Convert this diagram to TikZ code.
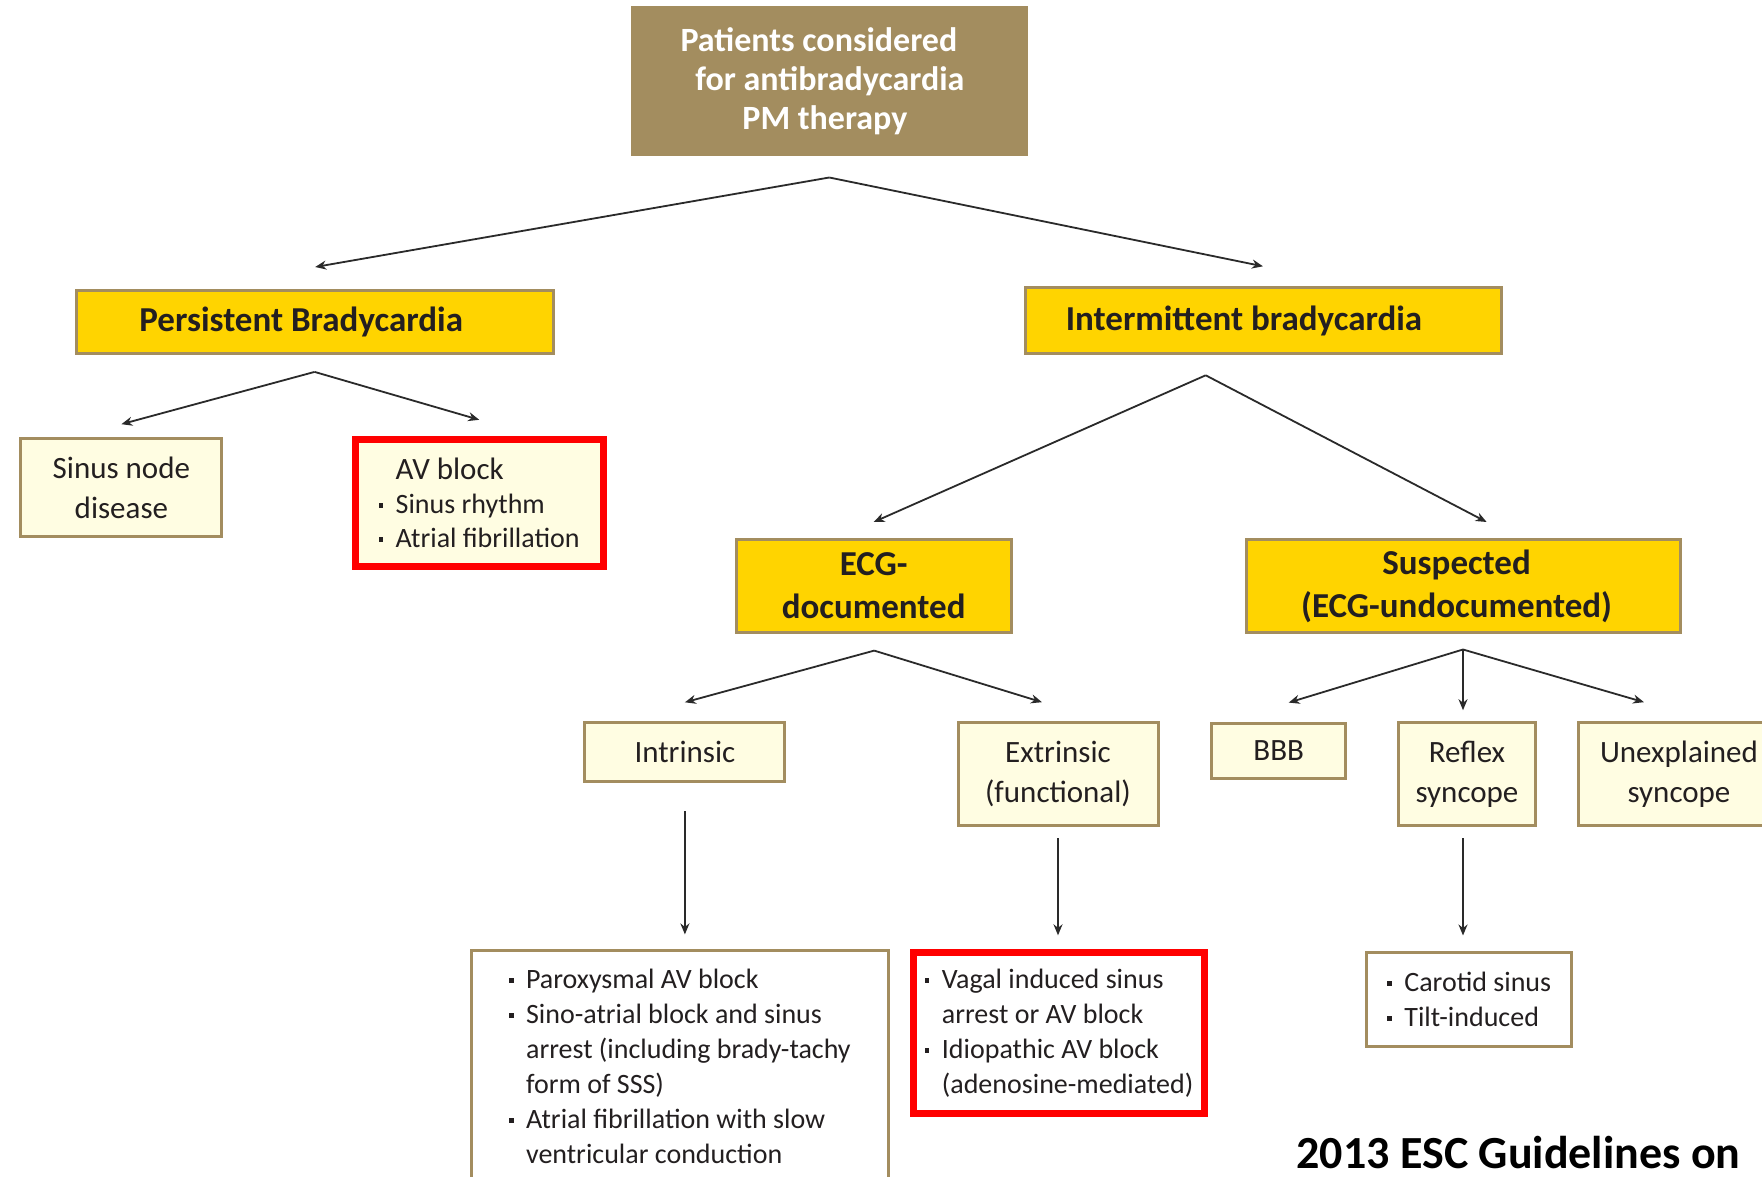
\documentclass[tikz,border=0pt]{standalone}
\usepackage{fontspec}
\setmainfont{Carlito}
\usepackage{tikz}
\usetikzlibrary{arrows.meta,positioning}
\definecolor{esctan}{HTML}{A38D5F}
\definecolor{escgold}{HTML}{FFD400}
\definecolor{esccream}{HTML}{FFFDE2}
\definecolor{escred}{HTML}{FF0000}
\definecolor{ink}{HTML}{231F20}
\definecolor{arrowgray}{HTML}{2A2A2A}
\newcommand{\blt}{\makebox[17pt][l]{\raisebox{0.2em}{\rule{4.5pt}{4.5pt}}}}
\newcommand{\bltpad}{\hspace*{17pt}}

\begin{document}
\begin{tikzpicture}[
  x=1pt, y=-1pt,
  topbox/.style={fill=esctan, text=white, align=center,
                 font=\bfseries\fontsize{34}{39}\selectfont},
  headbox/.style={draw=esctan, line width=3pt, fill=escgold, text=ink,
                  align=center, font=\bfseries\fontsize{35}{43}\selectfont},
  leafbox/.style={draw=esctan, line width=3pt, fill=esccream, text=ink,
                  align=center, font=\fontsize{31}{40}\selectfont},
  listbox/.style={draw=esctan, line width=3pt, fill=white, text=ink,
                  align=left, font=\fontsize{28}{35}\selectfont},
  redframe/.style={draw=escred, line width=7pt},
  map/.style={-{Stealth[length=11pt,width=9pt]}, line width=1.8pt, draw=arrowgray}
]
  \path[use as bounding box] (0,0) rectangle (1762,1177);
  \fill[white] (0,0) rectangle (1762,1177);
  \clip (0,0) rectangle (1762,1177);

  \node[topbox, minimum width=397pt, minimum height=150pt] (patients) at (829.9,81.5)
    {Patients considered\hspace*{22pt}\\for antibradycardia\hspace*{22pt}\\PM therapy\hspace*{10pt}};

  \node[headbox, minimum width=477pt, minimum height=63pt] (persist) at (315.2,322) {Persistent Bradycardia\hspace*{28pt}};
  \node[headbox, minimum width=476pt, minimum height=66pt] (intermit) at (1263,320.8) {Intermittent bradycardia\hspace*{38pt}};

  \node[leafbox, minimum width=201pt, minimum height=98pt] (sinus) at (121.4,487.7) {Sinus node\\disease};
  \node[leafbox, redframe, align=left, font=\fontsize{28}{34}\selectfont,
        minimum width=248pt, minimum height=127pt] (avblock) at (479.2,502.8)
    {\bltpad{\fontsize{31}{37}\selectfont AV block}\\\blt Sinus rhythm\\\blt Atrial fibrillation};

  \node[headbox, minimum width=275pt, minimum height=93pt] (ecgdoc) at (873.7,586) {ECG-\\documented};
  \node[headbox, minimum width=434pt, minimum height=93pt] (suspect) at (1463.6,586) {Suspected\hspace*{14pt}\\(ECG-undocumented)\hspace*{14pt}};

  \node[leafbox, minimum width=200pt, minimum height=59pt] (intrin) at (684.9,752.3) {Intrinsic};
  \node[leafbox, minimum width=200pt, minimum height=103pt] (extrin) at (1058,774.2) {Extrinsic\\(functional)};
  \node[leafbox, minimum width=134pt, minimum height=55pt] (bbb) at (1278.7,750.6) {BBB};
  \node[leafbox, minimum width=137pt, minimum height=103pt] (reflex) at (1467,774.2) {Reflex\\syncope};
  \node[leafbox, minimum width=201pt, minimum height=103pt] (unexpl) at (1679,774.2) {Unexplained\\syncope};

  \node[listbox, minimum width=417pt, minimum height=231pt] (intrinlist) at (679.9,1066.4)
    {\blt Paroxysmal AV block\\
     \blt Sino-atrial block and sinus\\
     \bltpad arrest (including brady-tachy\\
     \bltpad form of SSS)\\
     \blt Atrial fibrillation with slow\\
     \bltpad ventricular conduction};
  \node[listbox, redframe, minimum width=291pt, minimum height=161pt] (extrinlist) at (1059.1,1033.3)
    {\blt Vagal induced sinus\\
     \bltpad arrest or AV block\\
     \blt Idiopathic AV block\\
     \bltpad (adenosine-mediated)};
  \node[listbox, minimum width=205pt, minimum height=94pt] (reflexlist) at (1469.3,999)
    {\blt Carotid sinus\\\blt Tilt-induced};

  \node[anchor=base west, font=\bfseries\fontsize{46}{55}\selectfont] (footer) at (1293,1168)
    {2013 ESC Guidelines on};

  \coordinate (topfork) at (829.3,177.5);
  \coordinate (persistfork) at (314.6,371.9);
  \coordinate (intermitfork) at (1205.7,375.3);
  \coordinate (ecgfork) at (874.2,650.6);
  \coordinate (suspectfork) at (1463,649.5);

  \draw[map] (topfork) -- ([yshift=22pt]persist.north);
  \draw[map] (topfork) -- ([yshift=20pt]intermit.north);
  \draw[map] (persistfork) -- ([yshift=13pt]sinus.north);
  \draw[map] (persistfork) -- ([yshift=16pt]avblock.north);
  \draw[map] (intermitfork) -- ([yshift=16pt]ecgdoc.north);
  \draw[map] (intermitfork) -- ([xshift=23pt,yshift=16pt]suspect.north);
  \draw[map] (ecgfork) -- ([yshift=19pt]intrin.north);
  \draw[map] (ecgfork) -- ([xshift=-16pt,yshift=19pt]extrin.north);
  \draw[map] (suspectfork) -- ([xshift=10pt,yshift=19pt]bbb.north);
  \draw[map, shorten >=11pt] (suspectfork) -- (suspectfork |- reflex.north);
  \draw[map] (suspectfork) -- ([xshift=-35pt,yshift=19pt]unexpl.north);
  \draw[map, shorten <=28pt, shorten >=15pt] (intrin.south) -- (intrin.south |- intrinlist.north);
  \draw[map, shorten <=11pt, shorten >=14pt] (extrin.south) -- (extrin.south |- extrinlist.north);
  \draw[map, shorten <=11pt, shorten >=15pt] (suspectfork |- reflex.south) -- (suspectfork |- reflexlist.north);
\end{tikzpicture}
\end{document}
